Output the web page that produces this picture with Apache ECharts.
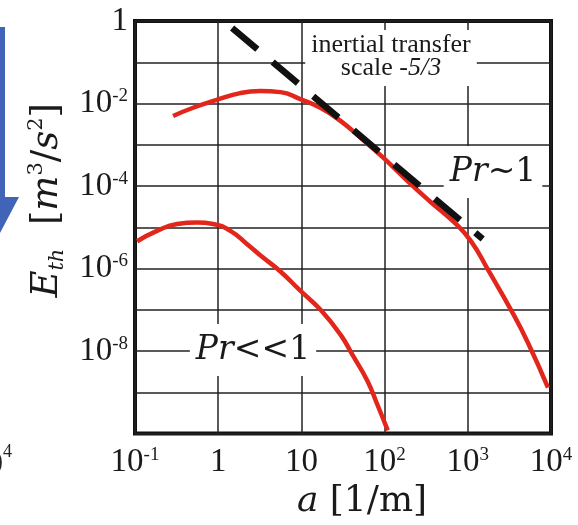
<!DOCTYPE html>
<html>
<head>
<meta charset="utf-8">
<script src="https://cdn.jsdelivr.net/npm/echarts@6/dist/echarts.min.js"></script>
<style>
html,body{margin:0;padding:0;background:#fff;}
#c{width:578px;height:525px;}
</style>
</head>
<body>
<div id="c"></div>
<script>
// wavenumber a [1/m] and thermal spectrum E_th [m^3/s^2]
const prOneX = [0.287, 0.5, 1.0, 1.84, 3.2, 5.6, 9.7, 16.9, 29.5, 51, 97, 189, 358, 678, 1086, 1740, 3300, 5280, 9200];
const prOneY = [5.0e-3, 7.9e-3, 1.26e-2, 1.79e-2, 2.0e-2, 1.89e-2, 1.28e-2, 7.9e-3, 3.8e-3, 1.5e-3, 4.8e-4, 1.32e-4, 4.1e-5, 1.35e-5, 4.7e-6, 9.5e-7, 1.0e-7, 1.6e-8, 1.3e-9];
const prSmallX = [0.106, 0.184, 0.321, 0.558, 0.87, 1.4, 2.23, 3.2, 5.6, 9.7, 17, 29.5, 42, 62, 82, 109];
const prSmallY = [4.6e-6, 8.2e-6, 1.2e-5, 1.3e-5, 1.2e-5, 8.2e-6, 3.9e-6, 2.1e-6, 8.5e-7, 2.9e-7, 1.0e-7, 2.5e-8, 7.5e-9, 1.9e-9, 5e-10, 1.2e-10];
const slopeX = [1.47, 1510];
const slopeY = [0.68, 5.2e-6];
const xTickExps = [-1, 0, 1, 2, 3, 4];
const yTickExps = [0, -2, -4, -6, -8];

const pairs = (xs, ys) => xs.map((x, i) => [x, ys[i]]);
const expOf = v => Math.round(Math.log10(v));
const powLabel = e => e === 0 ? '{b|1}' : (e === 1 ? '{b|10}' : '{b|10}{s|' + e + '}');

const serif = 'Liberation Serif';
const math = 'DejaVu Serif';
const tickRich = {
  b: {fontFamily: serif, fontSize: 33, color: '#1a1a1a', lineHeight: 34},
  s: {fontFamily: serif, fontSize: 19, color: '#1a1a1a', verticalAlign: 'top', lineHeight: 20}
};

const chart = echarts.init(document.getElementById('c'), null, {renderer: 'canvas'});
chart.setOption({
  animation: false,
  backgroundColor: '#ffffff',
  grid: {left: 135, right: 27, top: 21, bottom: 90, show: true, borderColor: '#111', borderWidth: 4, backgroundColor: 'rgba(0,0,0,0)'},
  xAxis: {
    type: 'log', logBase: 10, min: 0.1, max: 10000, interval: 1,
    axisLine: {show: false}, axisTick: {show: false},
    splitLine: {show: true, lineStyle: {color: '#222', width: 1.5}},
    axisLabel: {
      margin: 12,
      formatter: v => xTickExps.indexOf(expOf(v)) >= 0 ? powLabel(expOf(v)) : '',
      rich: tickRich
    },
    name: '{i|a}{n| [1/m]}', nameLocation: 'middle', nameGap: 47,
    nameTextStyle: {padding: [0, 0, 0, 38], rich: {
      i: {fontFamily: math, fontStyle: 'italic', fontSize: 36, color: '#1a1a1a'},
      n: {fontFamily: math, fontSize: 36, color: '#1a1a1a'}
    }}
  },
  yAxis: {
    type: 'log', logBase: 10, min: 1e-10, max: 1, interval: 1,
    axisLine: {show: false}, axisTick: {show: false},
    splitLine: {show: true, lineStyle: {color: '#222', width: 1.5}},
    axisLabel: {
      margin: 7,
      formatter: v => yTickExps.indexOf(expOf(v)) >= 0 ? powLabel(expOf(v)) : '',
      rich: tickRich
    },
    name: '{i|E}{sub|th}{n|  [}{i|m}{sup|3}{n|/}{i|s}{sup|2}{n|]}', nameLocation: 'middle', nameGap: 66, nameRotate: 90,
    nameTextStyle: {padding: [0, 0, 0, 54], rich: {
      i: {fontFamily: math, fontStyle: 'italic', fontSize: 37, color: '#1a1a1a', lineHeight: 42},
      n: {fontFamily: math, fontSize: 37, color: '#1a1a1a', lineHeight: 42},
      sub: {fontFamily: math, fontStyle: 'italic', fontSize: 21, color: '#1a1a1a', verticalAlign: 'bottom', lineHeight: 21},
      sup: {fontFamily: math, fontSize: 21, color: '#1a1a1a', verticalAlign: 'top', lineHeight: 21}
    }}
  },
  series: [
    {type: 'line', data: pairs(prOneX, prOneY), smooth: 0.5, showSymbol: false, z: 3,
     lineStyle: {color: '#e2261c', width: 4.5}},
    {type: 'line', data: pairs(prSmallX, prSmallY), smooth: 0.5, showSymbol: false, z: 3,
     lineStyle: {color: '#e2261c', width: 4.5}},
    {type: 'line', data: pairs(slopeX, slopeY), showSymbol: false, z: 4,
     lineStyle: {color: '#111', width: 6.5, type: [33, 20], cap: 'butt'}}
  ],
  graphic: [
    {type: 'polygon', z: 5, shape: {points: [[0, 27], [5, 27], [5, 197], [19, 197], [0, 233]]}, style: {fill: '#4264b8'}},
    {type: 'text', z: 5, x: 12, y: 452, style: {text: '4', fontFamily: serif, fontSize: 18, fill: '#222', align: 'right', verticalAlign: 'middle'}},
    {type: 'text', z: 5, x: 3, y: 465, style: {text: '10', fontFamily: serif, fontSize: 32, fill: '#222', align: 'right', verticalAlign: 'middle'}},
    {type: 'text', z: 6, x: 391, y: 58, style: {
      text: '{n|inertial transfer}\n{n|scale }{i|-5/3}', align: 'center', verticalAlign: 'middle',
      backgroundColor: '#fff', padding: [4, 6, 6, 6],
      rich: {
        n: {fontFamily: serif, fontSize: 26, fill: '#1a1a1a', lineHeight: 23},
        i: {fontFamily: serif, fontStyle: 'italic', fontSize: 26, fill: '#1a1a1a', lineHeight: 23}
      }}},
    {type: 'text', z: 6, x: 493, y: 172, style: {
      text: '{i|Pr}{n|~1}', align: 'center', verticalAlign: 'middle',
      backgroundColor: '#fff', padding: [8, 6, 8, 6],
      rich: {
        i: {fontFamily: math, fontStyle: 'italic', fontSize: 33, fill: '#1a1a1a', lineHeight: 36},
        n: {fontFamily: math, fontSize: 33, fill: '#1a1a1a', lineHeight: 36}
      }}},
    {type: 'text', z: 6, x: 253, y: 350, style: {
      text: '{i|Pr}{n|<<1}', align: 'center', verticalAlign: 'middle',
      backgroundColor: '#fff', padding: [8, 6, 8, 6],
      rich: {
        i: {fontFamily: math, fontStyle: 'italic', fontSize: 33, fill: '#1a1a1a', lineHeight: 36},
        n: {fontFamily: math, fontSize: 33, fill: '#1a1a1a', lineHeight: 36}
      }}}
  ]
});
</script>
</body>
</html>
